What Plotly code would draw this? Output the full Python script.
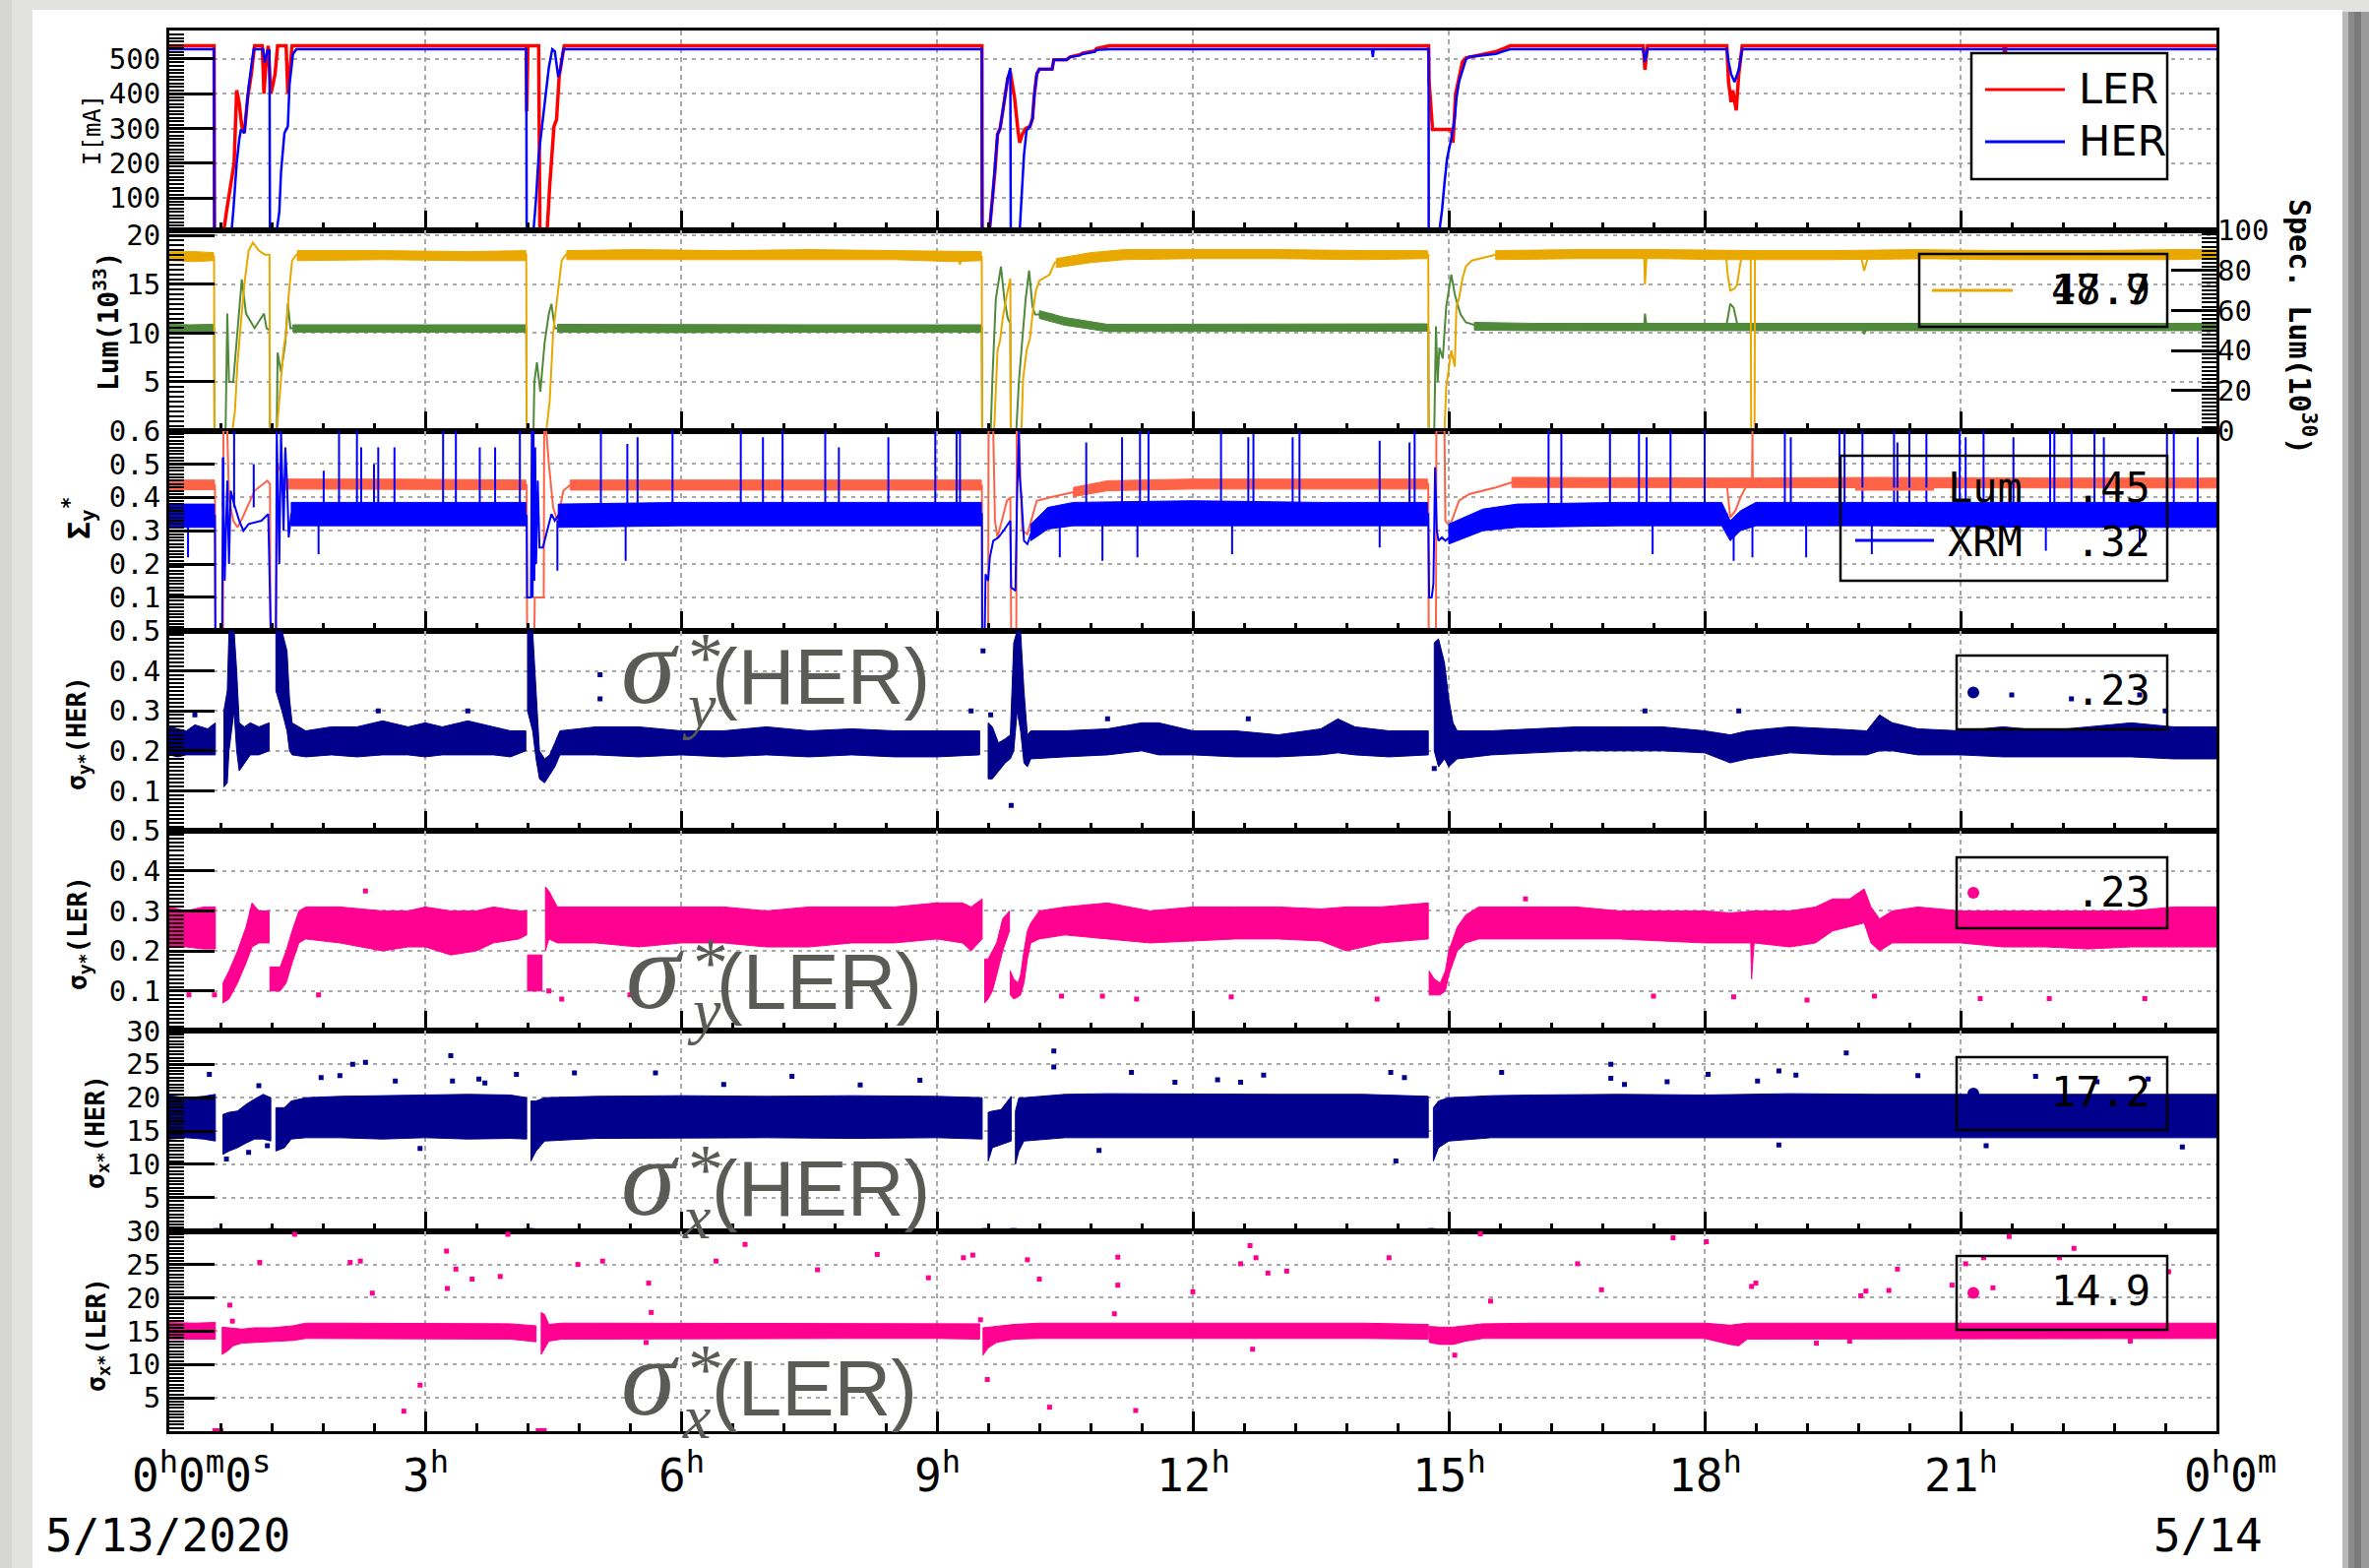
import plotly.graph_objects as go

# ============================ DATA (hours since 0h, 5/13/2020) ============================
LER_CURRENT = [
    (0.00, 538), (0.525, 538), (0.53, 6), (0.64, 6), (0.67, 60), (0.72, 136), (0.76, 200), (0.79, 410),
    (0.82, 372), (0.85, 306), (0.88, 287), (0.92, 391), (0.96, 453), (1.00, 538), (1.09, 538), (1.11, 400),
    (1.13, 476), (1.16, 538), (1.19, 400), (1.21, 420), (1.24, 457), (1.27, 538), (1.37, 538), (1.39, 400),
    (1.42, 476), (1.44, 538),
    (4.185, 538), (4.19, 350), (4.205, 538), (4.33, 538), (4.345, 6), (4.43, 6), (4.46, 136), (4.48, 200),
    (4.51, 306), (4.54, 325), (4.57, 448), (4.60, 495), (4.63, 538),
    (9.527, 538), (9.53, 6), (9.615, 6), (9.65, 96), (9.68, 178), (9.71, 283), (9.74, 300), (9.77, 347),
    (9.80, 399), (9.83, 445), (9.86, 463), (9.88, 434), (9.91, 387), (9.95, 294), (9.97, 259), (10.0, 283),
    (10.04, 300), (10.09, 306), (10.12, 329), (10.14, 393), (10.17, 457), (10.20, 471), (10.35, 471),
    (10.37, 498), (10.52, 498), (10.56, 506), (10.67, 512), (10.71, 517), (10.85, 523), (10.87, 530), (11.02, 538),
    (14.764, 538), (14.77, 434), (14.81, 297), (15.03, 297), (15.05, 259), (15.08, 399), (15.12, 445),
    (15.16, 492), (15.20, 503), (15.39, 512), (15.55, 521), (15.72, 538),
    (17.28, 538), (17.30, 469), (17.33, 538),
    (18.26, 538), (18.28, 434), (18.31, 376), (18.33, 410), (18.37, 352), (18.40, 457), (18.44, 538),
    (21.51, 538), (21.52, 481), (21.53, 538),
    (24.0, 538)]

HER_CURRENT = [
    (0.00, 528), (0.525, 528), (0.53, 6), (0.73, 6), (0.75, 60), (0.79, 200), (0.82, 268), (0.84, 297),
    (0.88, 287), (0.91, 382), (0.93, 420), (0.96, 476), (0.99, 528), (1.10, 528), (1.12, 490), (1.15, 524),
    (1.175, 524), (1.18, 6), (1.26, 6), (1.29, 60), (1.31, 174), (1.35, 287), (1.39, 306), (1.41, 429),
    (1.45, 514), (1.49, 528),
    (4.185, 528), (4.19, 6), (4.27, 6), (4.30, 98), (4.33, 221), (4.37, 306), (4.41, 391), (4.45, 476),
    (4.49, 528), (4.52, 522), (4.56, 448), (4.59, 476), (4.62, 528),
    (9.527, 528), (9.53, 6), (9.615, 6), (9.65, 96), (9.68, 178), (9.71, 283), (9.74, 300), (9.77, 347),
    (9.80, 399), (9.83, 445), (9.86, 474), (9.865, 6), (9.97, 6), (9.99, 96), (10.02, 224), (10.05, 294),
    (10.09, 306), (10.12, 329), (10.14, 393), (10.17, 457), (10.20, 471), (10.35, 471), (10.37, 498),
    (10.52, 498), (10.56, 506), (10.67, 510), (10.71, 515), (10.85, 521), (10.87, 526), (11.02, 528),
    (14.10, 528), (14.11, 506), (14.12, 528),
    (14.764, 528), (14.765, 6), (14.89, 6), (14.92, 62), (14.95, 143), (14.98, 213), (15.01, 248),
    (15.04, 283), (15.07, 329), (15.09, 387), (15.12, 434), (15.16, 469), (15.20, 498), (15.24, 506),
    (15.39, 510), (15.55, 515), (15.72, 528),
    (17.28, 528), (17.30, 492), (17.33, 528),
    (18.26, 528), (18.28, 492), (18.31, 457), (18.35, 434), (18.40, 469), (18.44, 528),
    (24.0, 528)]

# specific luminosity (right axis, 10^30)
SPEC_LUM = [
    (0, 87), (0.525, 87), (0.53, 0), (0.74, 0), (0.77, 10), (0.80, 34), (0.84, 54), (0.88, 73), (0.93, 90),
    (0.98, 94), (1.05, 90), (1.12, 88), (1.175, 88), (1.18, 0), (1.26, 0), (1.30, 20), (1.34, 41), (1.37, 49),
    (1.40, 68), (1.44, 85), (1.49, 88),
    (4.185, 88), (4.19, 0), (4.42, 0), (4.46, 15), (4.50, 49), (4.55, 68), (4.60, 85), (4.65, 88),
    (9.25, 87), (9.27, 83), (9.29, 87),
    (9.525, 87), (9.53, 0), (9.67, 0), (9.71, 40), (9.74, 45), (9.77, 56), (9.82, 68), (9.86, 76), (9.865, 0),
    (9.99, 0), (10.01, 26), (10.05, 40), (10.09, 46), (10.12, 58), (10.16, 70), (10.20, 75), (10.32, 78),
    (10.38, 84), (10.6, 86), (10.8, 87), (11.0, 88),
    (14.76, 88), (14.765, 0), (14.95, 0), (14.97, 22), (15.03, 40), (15.07, 32), (15.09, 62), (15.12, 66),
    (15.16, 76), (15.20, 82), (15.27, 85), (15.55, 88),
    (17.29, 88), (17.30, 73), (17.32, 88),
    (18.25, 88), (18.27, 78), (18.30, 70), (18.35, 71), (18.38, 73), (18.42, 84), (18.45, 88), (18.54, 88),
    (18.545, 0), (18.585, 0), (18.59, 88),
    (19.83, 88), (19.87, 80), (19.91, 86),
    (24, 88)]

SPEC_LUM_BAND = [
    [(0, 85, 89.5), (0.3, 84.5, 89.5), (0.52, 85, 89)],
    [(1.5, 85, 90), (2.5, 85.5, 90), (3.5, 85, 89.5), (4.18, 85, 90)],
    [(4.66, 85.5, 90), (5.5, 85.5, 90.5), (6.5, 85.5, 90), (7.5, 85.5, 90.5), (8.5, 85.5, 90),
     (9.2, 84.5, 89.5), (9.52, 85, 89.5)],
    [(10.4, 81.5, 86), (10.8, 84, 89), (11.2, 85.5, 90.5), (12, 86, 90.5), (13, 86, 90.5), (14, 85.5, 90),
     (14.75, 86, 90)],
    [(15.55, 85.5, 90), (16.5, 86, 90.5), (17.5, 86, 90.5), (18.2, 85.5, 90), (18.6, 85.5, 90),
     (19.5, 85.5, 90), (20.5, 86, 90.5), (21.5, 85.5, 90), (22.5, 85.5, 90), (23.5, 85.5, 90.5), (24, 86, 90.5)]]

# luminosity (left axis, 10^33)
LUMI = [
    (0, 10.5), (0.525, 10.5), (0.53, 0), (0.66, 0), (0.68, 12), (0.70, 5), (0.75, 5), (0.80, 10.5), (0.85, 15.5),
    (0.90, 12), (0.95, 11.2), (1.0, 10.5), (1.11, 12), (1.14, 10.5), (1.175, 10.3), (1.18, 0), (1.26, 0),
    (1.27, 8), (1.31, 6), (1.36, 9), (1.39, 13), (1.42, 10.5),
    (4.185, 10.5), (4.19, 0), (4.27, 0), (4.28, 5), (4.31, 7), (4.35, 4), (4.40, 9), (4.45, 12), (4.48, 13),
    (4.52, 10.5),
    (9.25, 10.5), (9.27, 10), (9.29, 10.5),
    (9.525, 10.5), (9.53, 0), (9.63, 0), (9.65, 5.3), (9.69, 13.5), (9.75, 16.8), (9.79, 13.5), (9.83, 11.5),
    (9.86, 11), (9.865, 0), (9.93, 0), (9.96, 5), (10.0, 9.5), (10.04, 13.5), (10.08, 16.4), (10.12, 12.7),
    (10.15, 11.9), (10.35, 11.9), (10.4, 11.3), (10.6, 10.9), (10.8, 10.7), (11.0, 10.5),
    (14.76, 10.5), (14.765, 0), (14.83, 0), (14.85, 10.7), (14.87, 5), (14.89, 8.5), (14.93, 7.4),
    (14.97, 12.7), (15.03, 16), (15.07, 14), (15.10, 13), (15.14, 11.9), (15.20, 11.1), (15.35, 10.7),
    (17.29, 10.6), (17.30, 12), (17.32, 10.6),
    (18.25, 10.6), (18.27, 11.5), (18.30, 13), (18.34, 12.6), (18.38, 11), (18.42, 10.6),
    (19.85, 10.6), (19.87, 9.9), (19.90, 10.5),
    (24, 10.6)]

LUMI_BAND = [
    [(0, 10.15, 10.9), (0.25, 10.1, 10.85), (0.52, 10.15, 10.9)],
    [(1.45, 10.1, 10.85), (2.5, 10.05, 10.85), (3.3, 10.1, 10.9), (4.18, 10.1, 10.85)],
    [(4.55, 10.1, 10.9), (6, 10.05, 10.85), (7.5, 10.1, 10.85), (9.52, 10.1, 10.85)],
    [(10.2, 11.5, 12.3), (10.5, 10.8, 11.6), (11.0, 10.15, 10.9), (12.5, 10.2, 10.95), (14.75, 10.2, 10.95)],
    [(15.3, 10.3, 11.1), (16, 10.25, 11.0), (19.5, 10.25, 11.0), (21, 10.2, 11.0), (24, 10.25, 11.0)]]

# Sigma_y* from luminosity and from X-ray monitor
LUM_SIGMA = [
    (0, 0.437), (0.535, 0.437), (0.54, 0.0), (0.63, 0.0), (0.635, 0.6), (0.68, 0.6), (0.70, 0.4), (0.75, 0.33),
    (0.80, 0.31), (0.86, 0.34), (0.93, 0.38), (1.0, 0.42), (1.1, 0.44), (1.15, 0.45), (1.18, 0.44),
    (1.185, 0.0), (1.25, 0.0), (1.27, 0.5), (1.34, 0.45), (1.4, 0.44),
    (4.19, 0.437), (4.195, 0.0), (4.28, 0.0), (4.285, 0.1), (4.39, 0.1), (4.395, 0.6), (4.42, 0.6),
    (4.45, 0.5), (4.50, 0.37), (4.55, 0.33), (4.62, 0.42), (4.7, 0.437),
    (9.527, 0.435), (9.53, 0.0), (9.60, 0.0), (9.605, 0.6), (9.66, 0.6), (9.68, 0.33), (9.71, 0.28),
    (9.76, 0.33), (9.82, 0.39), (9.86, 0.40), (9.87, 0.0), (9.93, 0.0), (9.935, 0.6), (9.96, 0.6),
    (10.0, 0.3), (10.06, 0.29), (10.17, 0.39), (10.33, 0.40), (10.6, 0.416), (10.98, 0.435),
    (14.76, 0.44), (14.765, 0.0), (14.85, 0.0), (14.855, 0.6), (14.95, 0.6), (14.96, 0.33), (15.01, 0.315),
    (15.05, 0.34), (15.12, 0.39), (15.24, 0.41), (15.55, 0.43), (15.74, 0.445),
    (18.26, 0.44), (18.30, 0.34), (18.36, 0.36), (18.42, 0.40), (18.5, 0.44), (18.555, 0.44), (18.56, 0.6),
    (18.565, 0.44),
    (24, 0.44)]

LUM_SIGMA_BAND = [
    [(0, 0.423, 0.452), (0.53, 0.423, 0.452)],
    [(1.3, 0.42, 0.46), (1.4, 0.425, 0.455), (2.6, 0.423, 0.455), (4.18, 0.423, 0.452)],
    [(4.7, 0.422, 0.452), (7, 0.423, 0.453), (9.52, 0.422, 0.452)],
    [(10.6, 0.402, 0.43), (11.0, 0.42, 0.45), (12, 0.425, 0.455), (14.75, 0.425, 0.455)],
    [(15.74, 0.43, 0.46), (17, 0.428, 0.458), (18.2, 0.428, 0.458), (18.6, 0.428, 0.458), (20, 0.43, 0.46),
     (22, 0.428, 0.458), (24, 0.428, 0.458)]]

XRM_SIGMA = [
    (0, 0.345), (0.535, 0.345), (0.54, 0.0), (0.62, 0.0), (0.63, 0.52), (0.65, 0.15), (0.68, 0.45), (0.70, 0.2),
    (0.72, 0.42), (0.76, 0.38), (0.82, 0.33), (0.87, 0.30), (0.93, 0.32), (1.08, 0.33), (1.16, 0.35),
    (1.185, 0.1), (1.19, 0.0), (1.25, 0.0), (1.26, 0.6), (1.29, 0.2), (1.31, 0.6), (1.34, 0.3), (1.36, 0.55),
    (1.38, 0.45), (1.40, 0.28), (1.43, 0.35),
    (4.19, 0.345), (4.195, 0.1), (4.24, 0.1), (4.25, 0.6), (4.26, 0.1), (4.27, 0.6), (4.28, 0.15), (4.29, 0.55),
    (4.30, 0.2), (4.32, 0.45), (4.34, 0.25), (4.38, 0.25), (4.43, 0.30), (4.48, 0.35), (4.52, 0.33),
    (4.56, 0.345),
    (9.527, 0.35), (9.53, 0.0), (9.56, 0.0), (9.57, 0.17), (9.60, 0.15), (9.62, 0.22), (9.66, 0.27),
    (9.72, 0.28), (9.78, 0.30), (9.84, 0.32), (9.86, 0.33), (9.87, 0.13), (9.92, 0.12), (9.94, 0.41),
    (9.96, 0.60), (9.97, 0.46), (9.99, 0.40), (10.02, 0.27), (10.06, 0.26), (10.10, 0.29), (10.17, 0.315),
    (10.30, 0.34), (10.6, 0.35),
    (14.76, 0.35), (14.77, 0.1), (14.80, 0.1), (14.82, 0.14), (14.84, 0.49), (14.86, 0.3), (14.88, 0.27),
    (14.92, 0.28), (14.96, 0.27), (15.05, 0.29), (15.15, 0.31), (15.4, 0.33), (15.8, 0.345),
    (18.26, 0.35), (18.30, 0.30), (18.36, 0.29), (18.42, 0.33), (18.5, 0.35),
    (24, 0.35)]

XRM_SIGMA_BAND = [
    [(0, 0.31, 0.38), (0.53, 0.31, 0.38)],
    [(1.43, 0.315, 0.385), (2.5, 0.315, 0.385), (3.5, 0.315, 0.385), (4.18, 0.315, 0.385)],
    [(4.56, 0.31, 0.38), (6, 0.315, 0.385), (7.5, 0.315, 0.385), (9.52, 0.315, 0.385)],
    [(10.1, 0.27, 0.32), (10.3, 0.305, 0.37), (10.6, 0.315, 0.385), (12, 0.315, 0.39), (13.5, 0.315, 0.385),
     (14.75, 0.315, 0.385)],
    [(15.0, 0.26, 0.32), (15.4, 0.3, 0.365), (15.8, 0.31, 0.38), (17, 0.315, 0.385), (18.2, 0.315, 0.385),
     (18.3, 0.27, 0.33), (18.42, 0.3, 0.36), (18.6, 0.315, 0.385), (20, 0.315, 0.385), (22, 0.31, 0.385),
     (24, 0.31, 0.385)]]

XRM_SPIKES_UP = [
    (0.63, 0.52), (0.76, 0.6), (0.99, 0.5), (1.81, 0.48), (1.99, 0.6), (2.2, 0.6), (2.25, 0.55), (2.4, 0.5),
    (2.45, 0.55), (2.64, 0.55), (3.21, 0.6), (3.36, 0.6), (3.64, 0.55), (3.82, 0.55), (4.11, 0.6), (5.06, 0.6),
    (5.37, 0.56), (5.49, 0.58), (5.9, 0.6), (6.7, 0.6), (6.96, 0.58), (7.19, 0.6), (7.69, 0.6), (7.85, 0.55),
    (8.43, 0.58), (8.98, 0.6), (9.23, 0.6), (9.27, 0.6), (10.75, 0.565), (11.17, 0.58), (11.38, 0.6),
    (11.48, 0.6), (12.33, 0.6), (12.65, 0.58), (12.71, 0.59), (13.17, 0.58), (13.25, 0.6), (14.19, 0.57),
    (14.54, 0.565), (14.6, 0.6), (16.17, 0.6), (16.32, 0.59), (16.89, 0.6), (17.23, 0.6), (17.32, 0.58),
    (17.60, 0.6), (18.0, 0.6), (18.94, 0.6), (19.01, 0.58), (19.58, 0.6), (19.64, 0.6), (19.85, 0.6),
    (20.22, 0.6), (20.26, 0.565), (20.4, 0.6), (20.6, 0.59), (20.99, 0.6), (21.06, 0.58), (21.27, 0.6),
    (21.62, 0.58), (22.05, 0.6), (22.1, 0.6), (22.3, 0.6), (22.57, 0.6), (22.68, 0.58), (23.42, 0.59),
    (23.5, 0.6), (23.78, 0.58)]
XRM_SPIKES_DOWN = [
    (0.22, 0.22), (1.75, 0.23), (4.55, 0.18), (5.35, 0.21), (10.44, 0.22), (10.94, 0.21), (11.35, 0.22),
    (12.46, 0.23), (14.19, 0.25), (17.39, 0.23), (18.34, 0.21), (18.56, 0.22), (19.19, 0.22), (19.96, 0.23),
    (22.0, 0.24), (23.1, 0.25)]

# sigma_y* HER (navy dots)
SIGY_HER_BAND = [
    [(0, 0.19, 0.26), (0.1, 0.185, 0.255), (0.2, 0.19, 0.25), (0.3, 0.19, 0.265), (0.45, 0.19, 0.255),
     (0.54, 0.19, 0.27)],
    [(0.64, 0.11, 0.30), (0.68, 0.12, 0.35), (0.70, 0.2, 0.5), (0.76, 0.3, 0.5), (0.79, 0.2, 0.4),
     (0.82, 0.15, 0.27), (0.88, 0.17, 0.26), (0.95, 0.19, 0.27), (1.05, 0.19, 0.26), (1.17, 0.2, 0.27)],
    [(1.25, 0.35, 0.5), (1.32, 0.3, 0.5), (1.38, 0.25, 0.45), (1.41, 0.2, 0.33), (1.44, 0.19, 0.27),
     (1.6, 0.185, 0.25), (1.9, 0.19, 0.26), (2.2, 0.185, 0.26), (2.5, 0.19, 0.275), (2.8, 0.19, 0.26),
     (3.0, 0.185, 0.27), (3.2, 0.19, 0.26), (3.5, 0.19, 0.275), (3.8, 0.19, 0.26), (4.0, 0.185, 0.25),
     (4.18, 0.2, 0.25)],
    [(4.2, 0.3, 0.5), (4.26, 0.25, 0.5), (4.3, 0.18, 0.35), (4.34, 0.13, 0.2), (4.4, 0.12, 0.18),
     (4.46, 0.14, 0.19), (4.52, 0.16, 0.22), (4.58, 0.19, 0.25), (5.0, 0.19, 0.26), (5.5, 0.185, 0.26),
     (6.0, 0.19, 0.25), (6.5, 0.185, 0.25), (7.0, 0.19, 0.26), (7.5, 0.185, 0.25), (8.0, 0.19, 0.255),
     (8.5, 0.185, 0.25), (9.0, 0.185, 0.25), (9.5, 0.19, 0.25)],
    [(9.6, 0.13, 0.27), (9.65, 0.13, 0.26), (9.72, 0.15, 0.22), (9.8, 0.17, 0.23), (9.86, 0.18, 0.24),
     (9.9, 0.2, 0.47), (9.94, 0.3, 0.5), (9.98, 0.25, 0.5), (10.02, 0.17, 0.35), (10.06, 0.16, 0.24),
     (10.1, 0.18, 0.25), (10.5, 0.185, 0.25), (11.0, 0.19, 0.255), (11.4, 0.2, 0.27), (11.6, 0.19, 0.27),
     (12.0, 0.19, 0.25), (12.5, 0.185, 0.25), (13.0, 0.185, 0.24), (13.5, 0.19, 0.255), (13.7, 0.195, 0.28),
     (13.9, 0.19, 0.26), (14.3, 0.185, 0.25), (14.76, 0.19, 0.25)],
    [(14.83, 0.2, 0.47), (14.88, 0.16, 0.48), (14.95, 0.18, 0.42), (15.0, 0.16, 0.33), (15.05, 0.17, 0.27),
     (15.1, 0.18, 0.25), (15.5, 0.19, 0.25), (16, 0.195, 0.255), (16.5, 0.2, 0.26), (17, 0.2, 0.26),
     (17.5, 0.2, 0.26), (18.0, 0.195, 0.25), (18.3, 0.17, 0.24), (18.5, 0.18, 0.25), (19, 0.195, 0.26),
     (19.5, 0.19, 0.255), (19.9, 0.19, 0.25), (20.05, 0.2, 0.29), (20.2, 0.2, 0.27), (20.5, 0.19, 0.255),
     (21, 0.19, 0.25), (21.5, 0.185, 0.26), (22, 0.185, 0.25), (22.5, 0.185, 0.26), (23, 0.185, 0.27),
     (23.5, 0.18, 0.26), (24, 0.18, 0.26)]]
SIGY_HER_OUT = [(0.3, 0.29), (2.45, 0.30), (3.5, 0.30), (5.05, 0.39), (5.05, 0.33), (9.4, 0.30), (9.54, 0.45),
                (9.63, 0.29), (9.87, 0.064), (11.0, 0.28), (12.65, 0.28), (17.3, 0.30), (18.4, 0.30),
                (21.6, 0.34), (22.3, 0.33), (23.1, 0.34), (23.4, 0.30), (14.83, 0.156)]
SIGY_HER_ZERO = [0.54, 0.57, 0.60, 1.20, 1.23, 4.20, 4.23, 4.26, 9.55, 9.58, 9.61, 9.87, 9.90, 9.93,
                 14.78, 14.81, 14.84]

# sigma_y* LER (pink dots)
SIGY_LER_BAND = [
    [(0, 0.21, 0.31), (0.2, 0.21, 0.30), (0.4, 0.205, 0.31), (0.54, 0.205, 0.31)],
    [(0.63, 0.07, 0.12), (0.7, 0.08, 0.15), (0.8, 0.12, 0.2), (0.9, 0.17, 0.26), (0.97, 0.21, 0.32),
     (1.05, 0.22, 0.3), (1.17, 0.22, 0.3)],
    [(1.18, 0.1, 0.16), (1.3, 0.1, 0.16), (1.37, 0.12, 0.2), (1.44, 0.17, 0.25), (1.52, 0.22, 0.3),
     (1.6, 0.23, 0.31), (2.0, 0.22, 0.31), (2.5, 0.2, 0.3), (2.8, 0.21, 0.3), (3.0, 0.21, 0.31),
     (3.3, 0.19, 0.3), (3.6, 0.2, 0.3), (3.8, 0.22, 0.31), (4.1, 0.23, 0.3), (4.19, 0.24, 0.3)],
    [(4.2, 0.1, 0.19), (4.37, 0.1, 0.19)],
    [(4.41, 0.2, 0.36), (4.45, 0.23, 0.35), (4.55, 0.22, 0.31), (5.0, 0.22, 0.31), (5.5, 0.21, 0.31),
     (6.0, 0.22, 0.31), (6.5, 0.22, 0.31), (7.0, 0.21, 0.3), (7.5, 0.21, 0.31), (8.0, 0.22, 0.31),
     (8.5, 0.22, 0.31), (9.0, 0.23, 0.32), (9.3, 0.22, 0.32), (9.4, 0.2, 0.31), (9.53, 0.23, 0.33)],
    [(9.56, 0.07, 0.18), (9.6, 0.08, 0.18), (9.65, 0.1, 0.2), (9.7, 0.14, 0.22), (9.77, 0.2, 0.28),
     (9.85, 0.25, 0.3)],
    [(9.86, 0.09, 0.15), (9.9, 0.08, 0.13), (9.95, 0.085, 0.12), (9.98, 0.09, 0.14), (10.02, 0.12, 0.2),
     (10.06, 0.18, 0.25), (10.1, 0.22, 0.27), (10.2, 0.23, 0.3), (10.5, 0.24, 0.31), (11, 0.23, 0.32),
     (11.5, 0.22, 0.3), (12, 0.225, 0.31), (12.5, 0.23, 0.31), (13, 0.23, 0.31), (13.5, 0.225, 0.305),
     (13.8, 0.2, 0.31), (14.2, 0.22, 0.31), (14.76, 0.23, 0.32)],
    [(14.77, 0.09, 0.15), (14.83, 0.09, 0.13), (14.9, 0.09, 0.12), (14.96, 0.1, 0.15), (15.0, 0.14, 0.2),
     (15.05, 0.17, 0.23), (15.1, 0.2, 0.26), (15.2, 0.22, 0.29), (15.35, 0.23, 0.31), (16, 0.23, 0.31),
     (16.5, 0.23, 0.31), (17, 0.23, 0.3), (17.5, 0.225, 0.3), (18.0, 0.22, 0.3), (18.3, 0.22, 0.295),
     (18.54, 0.22, 0.3), (18.55, 0.13, 0.3), (18.58, 0.22, 0.3), (19, 0.21, 0.3), (19.3, 0.22, 0.31),
     (19.5, 0.25, 0.33), (19.7, 0.26, 0.33), (19.87, 0.27, 0.355), (19.95, 0.22, 0.31), (20.05, 0.2, 0.28),
     (20.2, 0.22, 0.3), (20.5, 0.22, 0.31), (21, 0.22, 0.3), (21.5, 0.21, 0.3), (22, 0.21, 0.3),
     (22.5, 0.205, 0.3), (23, 0.21, 0.3), (23.5, 0.21, 0.31), (24, 0.21, 0.31)]]
SIGY_LER_OUT = [(0.23, 0.09), (0.53, 0.09), (1.75, 0.09), (4.45, 0.10), (4.6, 0.08), (5.4, 0.09),
                (10.46, 0.087), (10.94, 0.087), (11.34, 0.08), (12.45, 0.085), (14.16, 0.08), (17.4, 0.087),
                (18.34, 0.085), (19.2, 0.077), (19.99, 0.087), (21.23, 0.081), (22.04, 0.081), (23.16, 0.081),
                (2.3, 0.35), (15.9, 0.33)]
SIGY_LER_ZERO = [0.54, 0.57, 0.60, 4.22, 4.25, 9.55, 9.58, 14.78, 14.81]

# sigma_x* HER (navy dots)
SIGX_HER_BAND = [
    [(0, 13.8, 20.3), (0.2, 14, 20), (0.4, 13.8, 20.2), (0.54, 13.5, 20.5)],
    [(0.63, 11.5, 17.5), (0.7, 12, 17.8), (0.8, 12.5, 18), (0.9, 13.2, 19), (1.0, 13.8, 19.8), (1.1, 13.8, 20.5),
     (1.19, 13.5, 20)],
    [(1.25, 12, 18.5), (1.35, 12.5, 18.5), (1.43, 13.8, 19.5), (1.6, 14, 20), (2, 14, 20.2), (2.5, 13.8, 20.3),
     (3, 14, 20.4), (3.5, 13.8, 20.5), (4, 13.9, 20.4), (4.19, 13.8, 20)],
    [(4.24, 10.5, 19.5), (4.3, 12, 19.5), (4.4, 13.5, 20), (5, 13.9, 20.2), (6, 14, 20.3), (7, 14, 20.2),
     (8, 13.9, 20.3), (9, 14, 20.2), (9.53, 13.8, 20)],
    [(9.6, 10.5, 17.8), (9.65, 12.5, 18), (9.75, 13, 18.2), (9.87, 13.5, 20.2)],
    [(9.92, 10, 18), (9.96, 12, 20), (10.02, 13.5, 20), (10.5, 14, 20.5), (11, 14, 20.6), (12, 14, 20.5),
     (13, 14, 20.5), (14, 14, 20.5), (14.76, 14, 20.2)],
    [(14.82, 10.5, 18.5), (14.88, 12.5, 19.5), (15.0, 13.5, 20), (15.5, 14, 20.3), (16, 14, 20.4),
     (17, 14, 20.5), (18, 14, 20.4), (19, 14, 20.6), (20, 14, 20.5), (21, 14, 20.5), (22, 14, 20.5),
     (23, 14, 20.4), (24, 14, 20.5)]]
SIGX_HER_OUT = [(0.47, 23.5), (1.05, 21.8), (1.78, 23.0), (2.0, 23.3), (2.15, 25.0), (2.3, 25.3), (2.65, 22.5),
                (3.3, 26.3), (3.32, 22.5), (3.63, 22.8), (3.7, 22.2), (4.07, 23.5), (4.75, 23.7), (5.7, 23.7),
                (0.93, 11.8), (1.15, 12.8), (2.94, 12.4), (0.67, 10.8), (10.37, 27.0), (10.37, 24.6),
                (11.28, 23.8), (11.79, 22.3), (12.29, 22.7), (12.56, 22.3), (12.83, 23.4), (14.32, 23.8),
                (14.48, 23.0), (10.9, 12.1), (14.38, 10.5), (15.62, 23.8), (16.9, 25.0), (16.9, 22.9),
                (17.06, 22.0), (17.56, 22.4), (18.04, 23.5), (18.62, 22.5), (18.87, 24.0), (19.07, 23.4),
                (19.66, 26.7), (18.87, 12.9), (20.5, 23.3), (21.88, 23.2), (22.6, 22.4), (23.2, 22.8),
                (6.5, 22.0), (7.3, 23.2), (8.1, 21.9), (8.8, 22.6), (21.3, 12.8), (23.6, 12.6)]
SIGX_HER_ZERO = [0.54, 0.57, 1.19, 1.22, 4.19, 4.22, 4.25, 9.55, 9.58, 9.88, 9.91, 14.78, 14.81]

# sigma_x* LER (pink dots)
SIGX_LER_BAND = [
    [(0, 13.8, 16.3), (0.3, 13.8, 16.2), (0.54, 13.8, 16.3)],
    [(0.62, 11.5, 15.6), (0.68, 12, 15.5), (0.75, 12.8, 15.4), (0.85, 13.2, 15.3), (1.0, 13.3, 15.5),
     (1.2, 13.4, 15.5), (1.45, 13.6, 15.8), (1.6, 13.9, 16.2), (2.0, 13.9, 16.2), (3, 13.8, 16.2),
     (4.0, 13.8, 16.1), (4.3, 13.4, 15.8)],
    [(4.36, 11.5, 17.8), (4.4, 12.5, 17.5), (4.45, 13.5, 16), (4.6, 13.8, 16.2), (5, 13.9, 16.2),
     (6, 13.9, 16.2), (7, 13.9, 16.2), (8, 13.9, 16.2), (9, 13.9, 16.2), (9.5, 13.8, 16.1)],
    [(9.54, 11.4, 15.5), (9.6, 12.5, 15.6), (9.7, 13.3, 15.7), (9.9, 13.8, 16), (10.2, 13.9, 16.2),
     (11, 13.9, 16.2), (12, 14, 16.2), (13, 13.9, 16.2), (14, 13.9, 16.2), (14.76, 13.8, 16)],
    [(14.77, 13.3, 15.7), (14.9, 13, 15.6), (15.05, 13, 15.6), (15.2, 13.5, 15.8), (15.4, 13.9, 16.1),
     (16, 13.9, 16.2), (17, 13.9, 16.2), (18, 13.9, 16.2), (18.3, 13, 15.9), (18.4, 12.8, 16),
     (18.5, 13.8, 16.2), (19, 13.9, 16.2), (20, 13.9, 16.2), (21, 13.9, 16.2), (22, 13.9, 16.2),
     (23, 13.9, 16.2), (24, 13.9, 16.2)]]
SIGX_LER_OUT = [(0.71, 18.9), (0.74, 16.5), (1.06, 25.3), (1.47, 29.5), (2.12, 25.3), (2.24, 25.5), (2.38, 20.7),
                (2.75, 3.0), (2.94, 6.9), (3.25, 27.0), (3.26, 21.4), (3.36, 24.3), (3.55, 22.8), (3.88, 23.2),
                (3.97, 29.5), (4.79, 25.0), (5.08, 25.5), (5.62, 22.2), (5.65, 17.8), (5.59, 13.3),
                (6.41, 25.5), (6.75, 28.0), (9.31, 26.0), (9.42, 26.4), (10.06, 25.7), (10.2, 22.8),
                (11.12, 26.1), (11.12, 21.9), (11.08, 17.6), (12.0, 20.9), (12.56, 25.1), (12.67, 27.8),
                (12.74, 26.0), (12.88, 23.7), (13.1, 24.0), (14.3, 26.0), (9.51, 16.7), (9.59, 7.75),
                (10.32, 3.6), (11.33, 3.1), (12.7, 12.3), (15.37, 29.6), (17.63, 29.0), (18.02, 28.4),
                (16.51, 25.1), (15.49, 19.5), (16.79, 21.2), (18.55, 21.7), (18.6, 22.2), (20.26, 24.3),
                (19.89, 21.0), (19.83, 20.3), (20.16, 21.1), (15.07, 11.4), (19.31, 13.2), (19.7, 13.5),
                (21.06, 25.1), (21.27, 26.0), (21.57, 29.2), (21.38, 21.5), (22.16, 26.0), (22.33, 27.4),
                (23.44, 23.9), (22.99, 13.5), (20.9, 21.9), (7.6, 24.2), (8.3, 26.5), (8.9, 23.0)]
SIGX_LER_ZERO = [0.54, 0.57, 0.60, 4.33, 4.36, 4.39]

# axes / labels
XTICK_T = [0, 3, 6, 9, 12, 15, 18, 21, 24]
XTICK_TEXT = ["0<sup>h</sup>0<sup>m</sup>0<sup>s</sup>", "3<sup>h</sup>", "6<sup>h</sup>", "9<sup>h</sup>",
              "12<sup>h</sup>", "15<sup>h</sup>", "18<sup>h</sup>", "21<sup>h</sup>", "0<sup>h</sup>0<sup>m</sup>"]
Y_RANGES = [[6, 582], [0, 20.5], [0, 0.6], [0, 0.5], [0, 0.5], [0, 30], [0, 30]]
Y_TICKVALS = [[100, 200, 300, 400, 500], [5, 10, 15, 20], [0.1, 0.2, 0.3, 0.4, 0.5, 0.6],
              [0.1, 0.2, 0.3, 0.4, 0.5], [0.1, 0.2, 0.3, 0.4, 0.5], [5, 10, 15, 20, 25, 30],
              [5, 10, 15, 20, 25, 30]]
Y_TICKTEXT = [["100", "200", "300", "400", "500"], ["5", "10", "15", "20"],
              ["0.1", "0.2", "0.3", "0.4", "0.5", "0.6"], ["0.1", "0.2", "0.3", "0.4", "0.5"],
              ["0.1", "0.2", "0.3", "0.4", "0.5"], ["5", "10", "15", "20", "25", "30"],
              ["5", "10", "15", "20", "25", "30"]]
Y_MINOR = [10, 0.5, 0.01, 0.01, 0.01, 0.5, 0.5]
RIGHT_TICKS = [0, 20, 40, 60, 80, 100]
Y_TITLES = ["I[mA]", "<b>Lum(10<sup>33</sup>)</b>", "<b>Σ<sub>y</sub><sup>*</sup></b>",
            "<b>σ<sub>y*</sub>(HER)</b>", "<b>σ<sub>y*</sub>(LER)</b>", "<b>σ<sub>x*</sub>(HER)</b>",
            "<b>σ<sub>x*</sub>(LER)</b>"]
LEGEND_VALUES = {"lum2": ["17.9", "48.7"], "lum3": ".45", "xrm3": ".32", "p4": ".23", "p5": ".23",
                 "p6": "17.2", "p7": "14.9"}

# ============================ STYLE / GEOMETRY ============================
W, H = 2407, 1593
X0, X1 = 172, 2252
TOP, BOT = 31, 1454
PH = (BOT - TOP) / 7
MONO = "DejaVu Sans Mono"
C_RED, C_BLUE, C_YEL, C_GRN = "#ff0000", "#0000ff", "#e9a800", "#4f8a3b"
C_TOM, C_NAVY, C_PINK = "#ff6347", "#00008c", "#ff0090"
GRID = "#a8a8a8"


def fx(p):
    return p / W


def fy(p):
    return 1 - p / H


def ax(i):
    return "" if i == 1 else str(i)


def xy(pairs):
    return [p[0] for p in pairs], [p[1] for p in pairs]


def band_xy(segments):
    xs, ys = [], []
    for seg in segments:
        t = [p[0] for p in seg]
        lo = [p[1] for p in seg]
        hi = [p[2] for p in seg]
        xs += t + t[::-1] + [t[0], None]
        ys += hi + lo[::-1] + [hi[0], None]
    return xs, ys


fig = go.Figure()


def add(tr, panel, yax=None):
    tr.update(xaxis="x" + ax(panel), yaxis=yax or ("y" + ax(panel)), showlegend=False, hoverinfo="skip")
    fig.add_trace(tr)


def add_band(segs, color, panel, yax=None):
    bx, by = band_xy(segs)
    add(go.Scatter(x=bx, y=by, mode="lines", fill="toself", fillcolor=color, line=dict(color=color, width=1)),
        panel, yax)


def add_line(pairs, color, width, panel, yax=None):
    lx, ly = xy(pairs)
    add(go.Scatter(x=lx, y=ly, mode="lines", line=dict(color=color, width=width)), panel, yax)


def add_dots(pairs, color, panel, size=5):
    dx, dy = xy(pairs)
    add(go.Scatter(x=dx, y=dy, mode="markers", marker=dict(color=color, size=size, symbol="square",
                                                             line=dict(width=0))), panel)


# panel 1 : beam currents
add_line(LER_CURRENT, C_RED, 3.5, 1)
add_line(HER_CURRENT, C_BLUE, 2.5, 1)
# panel 2 : luminosity / specific luminosity
add_band(LUMI_BAND, C_GRN, 2)
add_line(LUMI, C_GRN, 2, 2)
add_band(SPEC_LUM_BAND, C_YEL, 2, "y8")
add_line(SPEC_LUM, C_YEL, 2, 2, "y8")
# panel 3 : Sigma_y*
add_band(LUM_SIGMA_BAND, C_TOM, 3)
add_line(LUM_SIGMA, C_TOM, 2, 3)
add_band(XRM_SIGMA_BAND, C_BLUE, 3)
add_line(XRM_SIGMA, C_BLUE, 2, 3)
sx, sy = [], []
for t, top in XRM_SPIKES_UP:
    sx += [t, t, None]
    sy += [0.37, top, None]
for t, bot in XRM_SPIKES_DOWN:
    sx += [t, t, None]
    sy += [0.33, bot, None]
add(go.Scatter(x=sx, y=sy, mode="lines", line=dict(color=C_BLUE, width=2)), 3)
# panels 4-7 : beam sizes
for panel, band, out, zero, col in [(4, SIGY_HER_BAND, SIGY_HER_OUT, SIGY_HER_ZERO, C_NAVY),
                                    (5, SIGY_LER_BAND, SIGY_LER_OUT, SIGY_LER_ZERO, C_PINK),
                                    (6, SIGX_HER_BAND, SIGX_HER_OUT, SIGX_HER_ZERO, C_NAVY),
                                    (7, SIGX_LER_BAND, SIGX_LER_OUT, SIGX_LER_ZERO, C_PINK)]:
    add_band(band, col, panel)
    add_dots(out, col, panel)
    add_dots([(t, 0) for t in zero], col, panel, size=6)

layout = dict(width=W, height=H, margin=dict(l=0, r=0, t=0, b=0), paper_bgcolor="#e2e2df",
              plot_bgcolor="rgba(0,0,0,0)", showlegend=False)
for i in range(1, 8):
    top = TOP + (i - 1) * PH
    bot = top + PH
    layout["xaxis" + ax(i)] = dict(
        domain=[fx(X0), fx(X1)], anchor="y" + ax(i), range=[0, 24], tickmode="array", tickvals=XTICK_T,
        showticklabels=False, ticks="inside", ticklen=20, tickwidth=3, tickcolor="black",
        minor=dict(tickmode="linear", tick0=0, dtick=0.6, ticks="inside", ticklen=8, tickwidth=2.5,
                   tickcolor="black", showgrid=False),
        showline=True, linewidth=3, linecolor="black", mirror=True, showgrid=True, gridcolor=GRID,
        gridwidth=1.5, griddash="5px,4px", zeroline=False, automargin=False)
    layout["yaxis" + ax(i)] = dict(
        domain=[fy(bot), fy(top)], anchor="x" + ax(i), range=Y_RANGES[i - 1], tickmode="array",
        tickvals=Y_TICKVALS[i - 1], ticktext=Y_TICKTEXT[i - 1], ticks="inside", ticklen=46, tickwidth=3,
        tickcolor="black",
        minor=dict(tickmode="linear", tick0=0, dtick=Y_MINOR[i - 1], ticks="inside", ticklen=15, tickwidth=2,
                   tickcolor="black", showgrid=False),
        showline=True, linewidth=3, linecolor="black", mirror=True, showgrid=True, gridcolor=GRID,
        gridwidth=1.5, griddash="4px,5px", zeroline=False, automargin=False,
        tickfont=dict(family=MONO, size=29, color="black"))
layout["yaxis8"] = dict(
    overlaying="y2", side="right", anchor="x2", range=[0, 100], tickmode="array", tickvals=RIGHT_TICKS,
    ticks="inside", ticklen=46, tickwidth=3, tickcolor="black",
    minor=dict(tickmode="linear", tick0=0, dtick=2, ticks="inside", ticklen=15, tickwidth=2,
               tickcolor="black", showgrid=False),
    showline=False, showgrid=False, zeroline=False, automargin=False,
    tickfont=dict(family=MONO, size=29, color="black"))

shapes = []
# background card + right-hand shadow
shapes.append(dict(type="rect", xref="paper", yref="paper", x0=fx(33), x1=fx(2380), y0=-0.01, y1=fy(10),
                   fillcolor="white", line=dict(width=0), layer="below"))
for xa, xb, c in [(2380, 2386, "#b9b9b9"), (2386, 2392, "#8a8a8a"), (2392, 2399, "#7a7a7a"),
                  (2399, 2408, "#9a9a9a")]:
    shapes.append(dict(type="rect", xref="paper", yref="paper", x0=fx(xa), x1=fx(xb), y0=-0.01, y1=fy(12),
                       fillcolor=c, line=dict(width=0), layer="below"))
shapes.append(dict(type="rect", xref="paper", yref="paper", x0=-0.01, x1=fx(12), y0=-0.01, y1=1.01,
                   fillcolor="#d6d6d3", line=dict(width=0), layer="below"))


def box(x0, y0, x1, y1, fill="rgba(0,0,0,0)"):
    shapes.append(dict(type="rect", xref="paper", yref="paper", x0=fx(x0), x1=fx(x1), y0=fy(y1), y1=fy(y0),
                       fillcolor=fill, line=dict(color="black", width=2.5), layer="above"))


def hline(x0, x1, y, color, w=3):
    shapes.append(dict(type="line", xref="paper", yref="paper", x0=fx(x0), x1=fx(x1), y0=fy(y), y1=fy(y),
                       line=dict(color=color, width=w), layer="above"))


def dot(xc, yc, color, r=6):
    shapes.append(dict(type="circle", xref="paper", yref="paper", x0=fx(xc - r), x1=fx(xc + r),
                       y0=fy(yc + r), y1=fy(yc - r), fillcolor=color, line=dict(width=0), layer="above"))


box(2003, 54, 2202, 182, "white")
hline(2017, 2098, 91, C_RED)
hline(2017, 2098, 144, C_BLUE)
box(1950, 258, 2202, 332)
hline(1963, 2045, 295, C_YEL)
box(1870, 463, 2202, 590)
hline(1885, 1965, 497, C_TOM)
hline(1885, 1965, 549, C_BLUE)
for (y0, y1, col) in [(666, 741, C_NAVY), (871, 943, C_PINK), (1074, 1148, C_NAVY), (1276, 1351, C_PINK)]:
    box(1988, y0, 2202, y1)
    dot(2005, (y0 + y1) / 2, col)

ann = []


def text(x, y, s, size, family=MONO, xanchor="center", yanchor="middle", angle=0, color="black", **kw):
    ann.append(dict(x=fx(x), y=fy(y), xref="paper", yref="paper", text=s, showarrow=False,
                    xanchor=xanchor, yanchor=yanchor, textangle=angle,
                    font=dict(family=family, size=size, color=color), **kw))


# legend texts
text(2110, 90, "LER", 43, "DejaVu Sans", xanchor="left")
text(2110, 143, "HER", 43, "DejaVu Sans", xanchor="left")
for s in LEGEND_VALUES["lum2"]:
    text(2187, 294, s, 42, xanchor="right")
text(1977, 496, "Lum", 42, xanchor="left")
text(2187, 496, LEGEND_VALUES["lum3"], 42, xanchor="right")
text(1977, 550, "XRM", 42, xanchor="left")
text(2187, 550, LEGEND_VALUES["xrm3"], 42, xanchor="right")
text(2187, 702, LEGEND_VALUES["p4"], 42, xanchor="right")
text(2187, 906, LEGEND_VALUES["p5"], 42, xanchor="right")
text(2187, 1109, LEGEND_VALUES["p6"], 42, xanchor="right")
text(2187, 1311, LEGEND_VALUES["p7"], 42, xanchor="right")

# axis titles
TITLE_POS = [(94, 132, 24), (108, 326, 28), (80, 527, 30), (79, 745, 26), (80, 948, 26), (98, 1150, 26),
             (99, 1356, 26)]
for (x, y, s), t in zip(TITLE_POS, Y_TITLES):
    text(x, y, t, s, angle=-90)
text(2338, 332, "<b>Spec. Lum(10<sup>30</sup>)</b>", 30, angle=90)

# x tick labels (bottom axis) and date labels
for t, s in zip(XTICK_T, XTICK_TEXT):
    shift = 32 if t == 0 else (14 if t == 24 else 0)
    ann.append(dict(x=t, y=fy(1496), xref="x7", yref="paper", text=s, showarrow=False, xanchor="center",
                    yanchor="middle", xshift=shift, font=dict(family=MONO, size=46, color="black")))
text(170, 1560, "5/13/2020", 46)
text(2243, 1560, "5/14", 46)

# big grey overlay labels
GREY = "#5a5a56"
for (x0, yc, sub, ring) in [(629, 690, "y", "HER"), (634, 1000, "y", "LER"), (629, 1210, "x", "HER"),
                            (629, 1413, "x", "LER")]:
    text(x0, yc - 14, "<i>σ</i>", 112, "Liberation Serif", xanchor="left", color=GREY)
    text(x0 + 68, yc - 22, "*", 72, "Liberation Serif", xanchor="left", color=GREY)
    text(x0 + 62, yc + 26, "<i>%s</i>" % sub, 64, "Liberation Serif", xanchor="left", color=GREY)
    text(x0 + 92, yc - 3, "(%s)" % ring, 80, "Liberation Sans", xanchor="left", color=GREY)

layout["shapes"] = shapes
layout["annotations"] = ann
fig.update_layout(**layout)
fig.write_html("out.html", config={"displayModeBar": False, "responsive": False},
               post_script="document.documentElement.style.overflow='hidden';"
                           "document.body.style.overflow='hidden';document.body.style.margin='0';")
